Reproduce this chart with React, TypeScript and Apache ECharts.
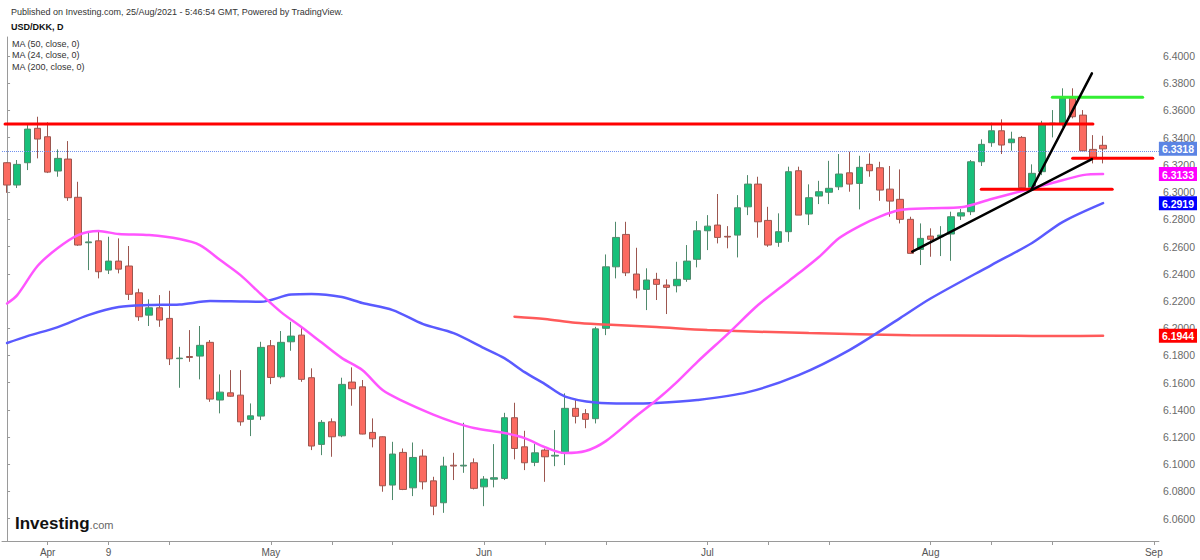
import React, { useEffect, useRef } from "react";
import * as echarts from "echarts";

const FONT = "'Liberation Sans', Arial, Helvetica, sans-serif";

// Trading days (category axis), Mar 26 2021 .. Sep 1 2021
const dates = [
  "2021-03-26", "2021-03-29", "2021-03-30", "2021-03-31",
  "2021-04-01", "2021-04-02", "2021-04-05", "2021-04-06", "2021-04-07", "2021-04-08", "2021-04-09",
  "2021-04-12", "2021-04-13", "2021-04-14", "2021-04-15", "2021-04-16", "2021-04-19", "2021-04-20",
  "2021-04-21", "2021-04-22", "2021-04-23", "2021-04-26", "2021-04-27", "2021-04-28", "2021-04-29", "2021-04-30",
  "2021-05-03", "2021-05-04", "2021-05-05", "2021-05-06", "2021-05-07", "2021-05-10", "2021-05-11",
  "2021-05-12", "2021-05-13", "2021-05-14", "2021-05-17", "2021-05-18", "2021-05-19", "2021-05-20",
  "2021-05-21", "2021-05-24", "2021-05-25", "2021-05-26", "2021-05-27", "2021-05-28", "2021-05-31",
  "2021-06-01", "2021-06-02", "2021-06-03", "2021-06-04", "2021-06-07", "2021-06-08", "2021-06-09",
  "2021-06-10", "2021-06-11", "2021-06-14", "2021-06-15", "2021-06-16", "2021-06-17", "2021-06-18",
  "2021-06-21", "2021-06-22", "2021-06-23", "2021-06-24", "2021-06-25", "2021-06-28", "2021-06-29", "2021-06-30",
  "2021-07-01", "2021-07-02", "2021-07-05", "2021-07-06", "2021-07-07", "2021-07-08", "2021-07-09",
  "2021-07-12", "2021-07-13", "2021-07-14", "2021-07-15", "2021-07-16", "2021-07-19", "2021-07-20",
  "2021-07-21", "2021-07-22", "2021-07-23", "2021-07-26", "2021-07-27", "2021-07-28", "2021-07-29", "2021-07-30",
  "2021-08-02", "2021-08-03", "2021-08-04", "2021-08-05", "2021-08-06", "2021-08-09", "2021-08-10",
  "2021-08-11", "2021-08-12", "2021-08-13", "2021-08-16", "2021-08-17", "2021-08-18", "2021-08-19",
  "2021-08-20", "2021-08-23", "2021-08-24", "2021-08-25", "2021-08-26", "2021-08-27", "2021-08-30", "2021-08-31",
  "2021-09-01",
];

const opens = [
  6.3216, 6.3052, 6.3216, 6.3469, 6.3407, 6.3155, 6.3243, 6.2962, 6.2628, 6.2642,
  6.2427, 6.2493, 6.2457, 6.2260, 6.2096, 6.2150, 6.2072, 6.1776, 6.1792, 6.1795,
  6.1896, 6.1472, 6.1525, 6.1508, 6.1330, 6.1354, 6.1871, 6.1643, 6.1900, 6.1949,
  6.1636, 6.1146, 6.1312, 6.1209, 6.1604, 6.1569, 6.1234, 6.1202, 6.0847, 6.1087,
  6.0827, 6.1060, 6.0878, 6.0717, 6.0993, 6.0987, 6.1011, 6.0834, 6.0890, 6.0896,
  6.1342, 6.1128, 6.1014, 6.1104, 6.1060, 6.1080, 6.1411, 6.1372, 6.1335, 6.1999,
  6.2451, 6.2689, 6.2398, 6.2285, 6.2359, 6.2317, 6.2312, 6.2359, 6.2506, 6.2716,
  6.2758, 6.2675, 6.2684, 6.2892, 6.3059, 6.2792, 6.2631, 6.2709, 6.3157, 6.2839,
  6.2971, 6.2999, 6.3039, 6.3142, 6.3064, 6.3204, 6.3179, 6.3022, 6.2947, 6.2800,
  6.2579, 6.2677, 6.2672, 6.2692, 6.2824, 6.2856, 6.3223, 6.3363, 6.3451, 6.3363,
  6.3402, 6.3035, 6.3150, 6.3503, 6.3500, 6.3696, 6.3566, 6.3314, 6.3344,
];
const highs = [
  6.3220, 6.3236, 6.3493, 6.3554, 6.3513, 6.3314, 6.3375, 6.3076, 6.2709, 6.2709,
  6.2672, 6.2660, 6.2604, 6.2290, 6.2212, 6.2243, 6.2275, 6.1863, 6.1986, 6.2016,
  6.1913, 6.1660, 6.1692, 6.1692, 6.1447, 6.1900, 6.1913, 6.1979, 6.2047, 6.2016,
  6.1705, 6.1325, 6.1337, 6.1636, 6.1712, 6.1619, 6.1337, 6.1205, 6.1165, 6.1116,
  6.1160, 6.1109, 6.0908, 6.1055, 6.1084, 6.1305, 6.1043, 6.0913, 6.1148, 6.1378,
  6.1452, 6.1246, 6.1148, 6.1116, 6.1251, 6.1521, 6.1480, 6.1405, 6.2010, 6.2542,
  6.2782, 6.2782, 6.2591, 6.2440, 6.2407, 6.2359, 6.2488, 6.2611, 6.2787, 6.2831,
  6.2986, 6.2750, 6.2978, 6.3125, 6.3113, 6.2892, 6.2844, 6.3187, 6.3187, 6.3057,
  6.3083, 6.3230, 6.3280, 6.3297, 6.3267, 6.3285, 6.3223, 6.3192, 6.3167, 6.2819,
  6.2770, 6.2734, 6.2750, 6.2856, 6.2876, 6.3236, 6.3388, 6.3510, 6.3535, 6.3444,
  6.3412, 6.3204, 6.3524, 6.3603, 6.3763, 6.3763, 6.3603, 6.3419, 6.3414,
];
const lows = [
  6.2995, 6.3030, 6.3162, 6.3248, 6.3140, 6.3113, 6.2936, 6.2605, 6.2427, 6.2366,
  6.2398, 6.2403, 6.2207, 6.2054, 6.2016, 6.2010, 6.1729, 6.1562, 6.1753, 6.1624,
  6.1459, 6.1374, 6.1496, 6.1283, 6.1207, 6.1325, 6.1589, 6.1631, 6.1834, 6.1606,
  6.1104, 6.1067, 6.1055, 6.1199, 6.1430, 6.1220, 6.1124, 6.0798, 6.0737, 6.0810,
  6.0766, 6.0815, 6.0626, 6.0643, 6.0884, 6.0937, 6.0815, 6.0692, 6.0830, 6.0884,
  6.1036, 6.0957, 6.0986, 6.0871, 6.0986, 6.0994, 6.1300, 6.1265, 6.1300, 6.1949,
  6.2366, 6.2383, 6.2219, 6.2133, 6.2207, 6.2104, 6.2263, 6.2341, 6.2447, 6.2574,
  6.2623, 6.2587, 6.2520, 6.2831, 6.2665, 6.2598, 6.2598, 6.2635, 6.2831, 6.2758,
  6.2912, 6.2912, 6.3015, 6.3003, 6.2873, 6.3113, 6.2936, 6.2819, 6.2770, 6.2545,
  6.2464, 6.2525, 6.2530, 6.2495, 6.2795, 6.2831, 6.3192, 6.3333, 6.3280, 6.3304,
  6.3015, 6.3015, 6.3125, 6.3402, 6.3480, 6.3542, 6.3297, 6.3211, 6.3211,
];
const closes = [
  6.3052, 6.3204, 6.3463, 6.3390, 6.3147, 6.3248, 6.2959, 6.2611, 6.2634, 6.2415,
  6.2493, 6.2434, 6.2249, 6.2084, 6.2150, 6.2060, 6.1775, 6.1780, 6.1785, 6.1874,
  6.1479, 6.1530, 6.1500, 6.1312, 6.1356, 6.1859, 6.1638, 6.1896, 6.1942, 6.1624,
  6.1134, 6.1308, 6.1202, 6.1587, 6.1555, 6.1222, 6.1187, 6.0842, 6.1075, 6.0815,
  6.1050, 6.0871, 6.0692, 6.0987, 6.0987, 6.0993, 6.0823, 6.0891, 6.0901, 6.1342,
  6.1116, 6.1011, 6.1084, 6.1055, 6.1066, 6.1411, 6.1352, 6.1330, 6.1995, 6.2451,
  6.2667, 6.2407, 6.2280, 6.2354, 6.2322, 6.2300, 6.2359, 6.2493, 6.2716, 6.2750,
  6.2667, 6.2670, 6.2885, 6.3059, 6.2782, 6.2611, 6.2709, 6.3150, 6.2831, 6.2959,
  6.3003, 6.3028, 6.3133, 6.3059, 6.3182, 6.3157, 6.3015, 6.2934, 6.2800, 6.2550,
  6.2660, 6.2653, 6.2684, 6.2819, 6.2848, 6.3223, 6.3351, 6.3451, 6.3346, 6.3390,
  6.3032, 6.3138, 6.3498, 6.3507, 6.3689, 6.3554, 6.3304, 6.3255, 6.3318,
];

// Moving averages as [bar index, value]
const ma50 = [
  [0, 6.1891], [2, 6.1942], [5, 6.2008], [8, 6.2096], [11, 6.2155], [14, 6.217], [17, 6.2174],
  [20, 6.2199], [23, 6.2196], [25, 6.2194], [28, 6.2247], [30, 6.2251], [33, 6.2229], [35, 6.2185],
  [38, 6.2133], [41, 6.203], [44, 6.1964], [47, 6.1854], [49, 6.178], [51, 6.1677], [53, 6.1589],
  [55, 6.1497], [58, 6.1453], [61, 6.1446], [64, 6.145], [68, 6.1472], [73, 6.153], [78, 6.1655],
  [83, 6.1839], [88, 6.2074], [91, 6.2218], [97, 6.2464], [101, 6.2626], [104, 6.278], [108, 6.2919],
];
const ma24 = [
  [0, 6.2182], [1, 6.2243], [3, 6.2457], [5, 6.2589], [7, 6.2684], [9, 6.2714], [11, 6.2692],
  [14, 6.2684], [17, 6.2655], [19, 6.2611], [21, 6.2501], [23, 6.239], [25, 6.2251], [27, 6.2118],
  [29, 6.2008], [31, 6.1894], [33, 6.178], [35, 6.1692], [37, 6.1545], [39, 6.1464], [42, 6.1365],
  [44, 6.131], [46, 6.1266], [49, 6.1229], [51, 6.1192], [53, 6.1126], [55, 6.1082], [57, 6.1097],
  [59, 6.117], [62, 6.1354], [64, 6.1472], [66, 6.1604], [68, 6.1751], [71, 6.1957], [74, 6.217],
  [76, 6.2288], [78, 6.2403], [80, 6.2523], [82, 6.2662], [84, 6.275], [86, 6.282], [88, 6.2868],
  [91, 6.2881], [94, 6.2888], [97, 6.2949], [100, 6.3008], [103, 6.3067], [106, 6.3125], [108, 6.3133],
];
const ma200 = [
  [50, 6.2084], [53, 6.2067], [56, 6.204], [59, 6.2027], [64, 6.2008], [69, 6.1986], [79, 6.1964],
  [89, 6.1949], [98, 6.1945], [104, 6.1942], [108, 6.1944],
];

// Drawn annotations [bar index, price]
const resistanceLine = [[-0.2, 6.35], [107, 6.35]];
const topLine = [[103, 6.3698], [111.9, 6.3698]];
const supportShort = [[105, 6.3249], [112.9, 6.3249]];
const supportLow = [[96, 6.3022], [108.9, 6.3022]];
const trendLow = [[89.2, 6.2562], [106.9, 6.3243]];
const trendSteep = [[100.95, 6.3021], [106.9, 6.3873]];

const lastPrice = 6.3318;
const yTicks = [
  6.06, 6.08, 6.1, 6.12, 6.14, 6.16, 6.18, 6.2, 6.22, 6.24, 6.26, 6.28, 6.3, 6.32, 6.34, 6.36, 6.38, 6.4,
];
const tagValues = [6.3318, 6.3133, 6.2919, 6.1944];
const tagColors = ["#5b84e4", "#ff00ff", "#0000ff", "#ff0000"];
const xLabels: Record<number, string> = { 4: "Apr", 10: "9", 26: "May", 47: "Jun", 69: "Jul", 91: "Aug", 113: "Sep" };
const xTickIdx = [4, 10, 16, 26, 32, 38, 47, 53, 59, 69, 75, 81, 91, 97, 103, 113];
const legendLines = ["MA (50, close, 0)", "MA (24, close, 0)", "MA (200, close, 0)"];

const Y_MIN = 6.0436;
const Y_MAX = 6.414;

export default function App() {
  const ref = useRef<HTMLDivElement>(null);

  useEffect(() => {
    document.body.style.margin = "0";
    if (!ref.current) return;
    const chart = echarts.init(ref.current, undefined, { renderer: "svg" });

    const candleData = opens.map((o, i) => [o, closes[i], lows[i], highs[i]]);

    const lineSeries = (
      name: string,
      data: number[][],
      color: string,
      width: number,
      z: number,
      smooth: number | boolean = false
    ) => ({
      name,
      type: "line",
      xAxisIndex: 1,
      yAxisIndex: 0,
      data,
      showSymbol: false,
      symbol: "none",
      smooth,
      silent: true,
      z,
      lineStyle: { color, width, cap: "round" },
    });

    const rich: Record<string, any> = {};
    tagColors.forEach((c, k) => {
      rich["t" + k] = {
        backgroundColor: c,
        color: "#ffffff",
        fontSize: 10.5,
        fontWeight: "bold",
        fontFamily: FONT,
        padding: [2, 3, 1, 3],
      };
    });

    chart.setOption({
      animation: false,
      backgroundColor: "#ffffff",
      textStyle: { fontFamily: FONT },
      grid: { left: 2, right: 41, top: 37, bottom: 19, containLabel: false },
      xAxis: [
        {
          type: "category",
          data: dates,
          boundaryGap: true,
          axisLine: { show: true, lineStyle: { color: "#9a9a9a", width: 1 } },
          axisTick: {
            show: true,
            alignWithLabel: true,
            length: 4,
            interval: (idx: number) => xTickIdx.includes(idx),
            lineStyle: { color: "#9a9a9a" },
          },
          axisLabel: {
            show: true,
            interval: (idx: number) => xLabels[idx] !== undefined,
            formatter: (_v: string, idx: number) => xLabels[idx] ?? "",
            color: "#555555",
            fontSize: 10,
            margin: 6,
            fontFamily: FONT,
          },
          splitLine: { show: false },
        },
        {
          type: "value",
          min: -0.5,
          max: 113.5,
          show: false,
          splitLine: { show: false },
        },
      ],
      yAxis: [
        {
          type: "value",
          position: "right",
          min: Y_MIN,
          max: Y_MAX,
          scale: true,
          axisLine: { show: true, lineStyle: { color: "#9a9a9a", width: 1 } },
          axisTick: { show: true, length: 3, customValues: yTicks, lineStyle: { color: "#9a9a9a" } },
          axisLabel: {
            show: true,
            customValues: yTicks,
            formatter: (v: number) => v.toFixed(4),
            color: "#6a6a6a",
            fontSize: 10.5,
            margin: 4,
            fontFamily: FONT,
          },
          splitLine: { show: false },
        },
        {
          type: "value",
          position: "right",
          min: Y_MIN,
          max: Y_MAX,
          z: 10,
          axisLine: { show: false },
          axisTick: { show: false },
          splitLine: { show: false },
          axisLabel: {
            show: true,
            customValues: tagValues,
            margin: 0,
            formatter: (v: number) => {
              let k = 0;
              let best = Infinity;
              tagValues.forEach((t, j) => {
                const d = Math.abs(t - v);
                if (d < best) {
                  best = d;
                  k = j;
                }
              });
              return `{t${k}|${tagValues[k].toFixed(4)}}`;
            },
            rich,
          },
        },
      ],
      series: [
        {
          name: "USD/DKK",
          type: "candlestick",
          xAxisIndex: 0,
          yAxisIndex: 0,
          data: candleData,
          barWidth: 7,
          z: 3,
          itemStyle: {
            color: "#17c07a",
            color0: "#fb6a60",
            borderColor: "#4f8a6c",
            borderColor0: "#9c564f",
            borderWidth: 1,
          },
          markLine: {
            silent: true,
            symbol: ["none", "none"],
            label: { show: false },
            lineStyle: { color: "#6f8ff0", type: "dotted", width: 1 },
            data: [{ yAxis: lastPrice }],
          },
        },
        lineSeries("MA 200", ma200, "#ff5a5a", 2.5, 4, 0.3),
        lineSeries("MA 50", ma50, "#5a5aff", 2.5, 4, 0.3),
        lineSeries("MA 24", ma24, "#ff55ff", 2.5, 4, 0.3),
        lineSeries("Resistance", resistanceLine, "#ff0000", 3, 6),
        lineSeries("Top", topLine, "#33ee33", 3, 6),
        lineSeries("Support short", supportShort, "#ff0000", 3, 6),
        lineSeries("Support low", supportLow, "#ff0000", 3, 6),
        lineSeries("Trend low", trendLow, "#000000", 2.5, 7),
        lineSeries("Trend steep", trendSteep, "#000000", 2.5, 7),
      ],
      graphic: [
        {
          type: "text",
          x: 11,
          y: 12,
          style: {
            text: "Published on Investing.com, 25/Aug/2021 - 5:46:54 GMT, Powered by TradingView.",
            fontSize: 9,
            fontFamily: FONT,
            fill: "#333333",
            verticalAlign: "middle",
          },
        },
        {
          type: "text",
          x: 11,
          y: 27,
          style: {
            text: "USD/DKK, D",
            fontSize: 9,
            fontWeight: "bold",
            fontFamily: FONT,
            fill: "#111111",
            verticalAlign: "middle",
          },
        },
        ...legendLines.map((t, k) => ({
          type: "text",
          x: 12,
          y: 44 + k * 11.3,
          style: {
            text: t,
            fontSize: 9,
            fontFamily: FONT,
            fill: "#333333",
            verticalAlign: "middle",
          },
        })),
        {
          type: "text",
          x: 15,
          y: 523,
          style: {
            text: "{a|Investing}{b|.com}",
            verticalAlign: "middle",
            rich: {
              a: { fontSize: 17, fontWeight: 900, fontFamily: FONT, fill: "#111111" },
              b: { fontSize: 11, fontFamily: FONT, fill: "#666666", padding: [4, 0, 0, 0] },
            },
          },
        },
      ],
    });

    return () => chart.dispose();
  }, []);

  return <div ref={ref} style={{ width: 1200, height: 560 }} />;
}
